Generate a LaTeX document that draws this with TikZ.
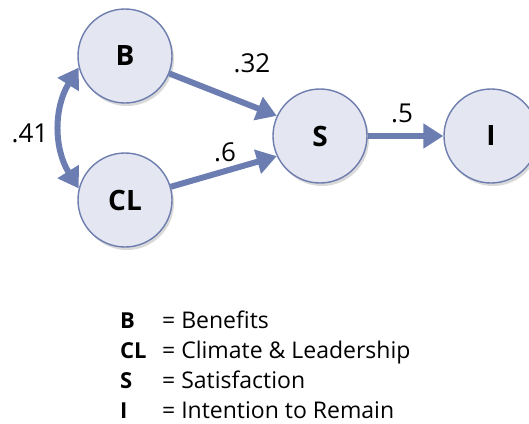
\documentclass[tikz,border=0pt]{standalone}
\usepackage{fontspec}
\setmainfont{Open Sans}
\usetikzlibrary{arrows.meta,shadows}
\definecolor{circfill}{HTML}{E4E7F2}
\definecolor{circline}{HTML}{6D7DAE}
\definecolor{arrowcol}{HTML}{6B7DB1}

\begin{document}
\begin{tikzpicture}[x=1pt,y=-1pt,
    var/.style={circle,draw=circline,line width=1.4pt,fill=circfill,minimum size=94pt,
      inner sep=0pt,font=\fontsize{28}{32}\selectfont\bfseries,
      drop shadow={shadow xshift=2pt,shadow yshift=-3pt,opacity=0.25,fill=black!60}},
    path/.style={draw=arrowcol,line width=6pt,-{Triangle[length=20pt,width=24pt]}},
    coef/.style={font=\fontsize{26}{30}\selectfont},
    key/.style={anchor=base west,inner sep=2pt,font=\fontsize{22}{26}\selectfont\bfseries},
    keytext/.style={anchor=base west,inner sep=2pt,font=\fontsize{23}{27}\selectfont}]
  \useasboundingbox (0,0) rectangle (529,423);
  % variables
  \node[var] (B) at (125,56) {B};
  \node[var] (CL) at (125,200) {CL};
  \node[var] (S) at (320,136) {S};
  \node[var] (I) at (491,136) {I};
  % paths
  \draw[path,{Triangle[length=20pt,width=24pt]}-{Triangle[length=20pt,width=24pt]}]
    (B.194) to[bend right=32] (CL.166);
  \draw[path] (B) -- (S.155);
  \draw[path] (CL) -- (S.205);
  \draw[path] (S) -- (I);
  % coefficients
  \node[coef] (rBCL) at (30,133) {.41};
  \node[coef] (rBS) at (252,63) {.32};
  \node[coef] (rCLS) at (225,152) {.6};
  \node[coef] (rSI) at (402,113) {.5};
  % legend
  \node[key] (kB) at (118,328) {B};
  \node[keytext] (tB) at (160,328) {= Benefits};
  \node[key] (kCL) at (118,358) {CL};
  \node[keytext] (tCL) at (160,358) {= Climate \& Leadership};
  \node[key] (kS) at (118,388) {S};
  \node[keytext] (tS) at (160,388) {= Satisfaction};
  \node[key] (kI) at (118,418) {I};
  \node[keytext] (tI) at (160,418) {= Intention to Remain};
\end{tikzpicture}
\end{document}
